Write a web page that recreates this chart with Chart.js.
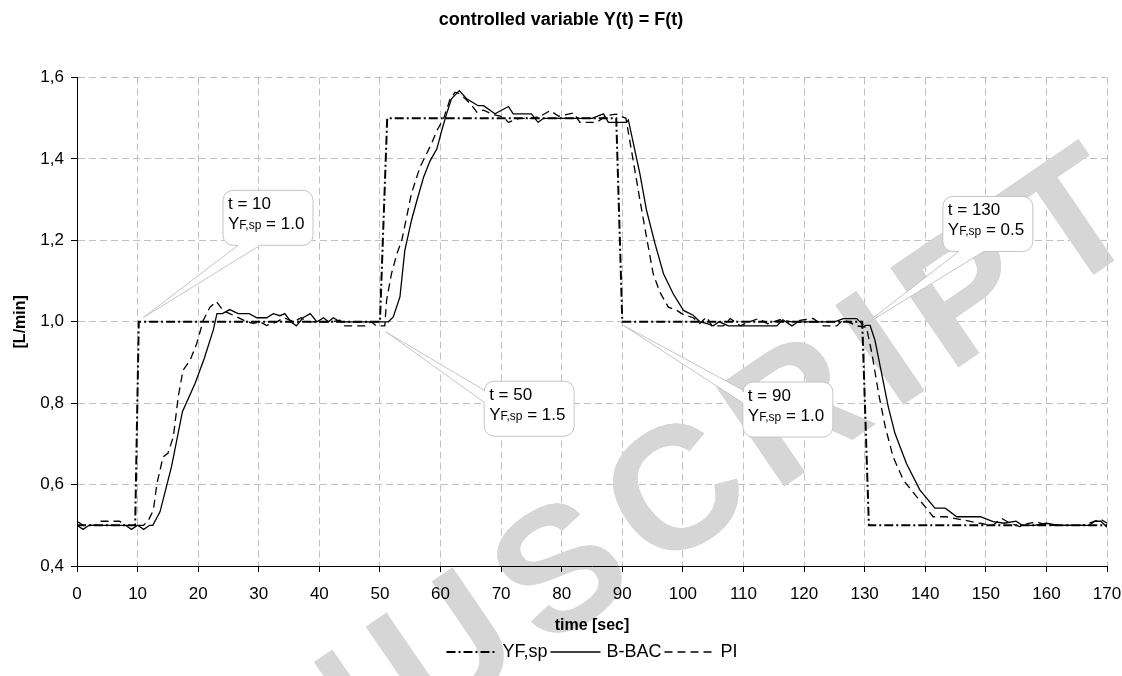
<!DOCTYPE html>
<html lang="en">
<head>
  <meta charset="UTF-8">
  <title>controlled variable Y(t) = F(t)</title>
  <script src="https://cdn.jsdelivr.net/npm/chart.js"></script>
  <style>
    html, body { margin: 0; padding: 0; background: #fff; }
    .chart-container { width: 1122px; height: 676px; }
  </style>
</head>
<body>
<div class="chart-container">
  <canvas id="flowChart"></canvas>
</div>

<script>
  // setpoint YF,sp
  var spTime = [0, 9.6, 10.2, 50, 51.2, 89, 90, 129.6, 130.7, 170];
  var spFlow = [0.5, 0.5, 1.0, 1.0, 1.5, 1.5, 1.0, 1.0, 0.5, 0.5];

  // B-BAC response
  var bbacTime = [0, 1, 2, 4, 6, 8, 9, 10, 11, 12, 12.5, 13.7, 15.6, 17.4, 19.5, 21, 22.5, 23.1, 24, 25.2,
    26.6, 28.4, 29.7, 31.3, 32.4, 33.5, 34.3, 35.3, 36.2, 37.3, 38.5, 39.6, 40.7, 41.5, 42.3, 43.4, 45, 47, 49, 51.4,
    52.2, 53.3, 54.1, 55.2, 56.1, 57.2, 58.3, 59.4, 60.2, 61.0, 61.8, 63.1, 64.3, 65.2, 66.2, 67.1, 69.0, 71.2, 72.0, 75.0,
    76.1, 77, 80, 83, 85, 86.9, 87.7, 90.7, 91.0, 91.8, 92.9, 94.0, 95.4, 96.8, 98.4, 100.1, 101.7, 102.8, 103.9, 105,
    106, 107.5, 110, 112, 114, 115.5, 116.5, 118, 119, 121, 123, 125, 126.5, 128.7, 129.8, 130.9, 131.7, 132.8, 133.9, 135,
    136.9, 139.1, 141.6, 143.3, 145.2, 149.1, 151.2, 153, 155, 156, 158, 160, 162, 165, 167, 168, 169, 170];
  var bbacFlow = [0.50, 0.49, 0.50, 0.50, 0.50, 0.50, 0.49, 0.50, 0.49, 0.50, 0.50, 0.533, 0.644, 0.779, 0.849, 0.91, 0.98, 1.02, 1.02, 1.03,
    1.02, 1.02, 1.01, 1.01, 1.02, 1.015, 1.02, 1.0, 0.99, 1.01, 1.02, 1.0, 1.01, 1.0, 1.01, 1.0, 1.0, 1.0, 1.0, 1.0,
    1.012, 1.061, 1.175, 1.249, 1.298, 1.355, 1.396, 1.425, 1.47, 1.511, 1.548, 1.568, 1.548, 1.54, 1.531, 1.531, 1.511, 1.529, 1.511, 1.511,
    1.49, 1.50, 1.50, 1.50, 1.50, 1.511, 1.49, 1.49, 1.496, 1.44, 1.364, 1.274, 1.192, 1.118, 1.069, 1.028, 1.016, 1.0, 0.996, 0.99,
    1.0, 0.99, 0.99, 0.99, 0.99, 0.99, 1.005, 0.99, 1.0, 1.0, 1.0, 1.0, 1.008, 1.008, 0.991, 0.991, 0.955, 0.873, 0.791, 0.726,
    0.652, 0.587, 0.542, 0.542, 0.521, 0.521, 0.509, 0.505, 0.51, 0.50, 0.50, 0.505, 0.50, 0.50, 0.50, 0.51, 0.51, 0.495];

  // PI response
  var piTime = [0, 1, 3, 4, 5, 7, 8, 9, 10, 11, 11.8, 12.6, 13.2, 14.2, 15.0, 15.9, 16.7, 17.5, 18.65, 19.75,
    20.85, 21.95, 23.0, 24.1, 25.2, 26.4, 28, 29.1, 30.2, 31.3, 33, 34.1, 35.8, 37, 38, 40, 42, 43.4, 44.2, 47.5,
    48.6, 49.4, 50.8, 51.1, 51.9, 52.8, 53.6, 54.4, 55.2, 56.6, 58.5, 59.4, 60.5, 61.6, 62.4, 63.2, 64.3, 65.4, 66, 67.1,
    68.5, 70.4, 71.2, 73, 75, 76.5, 78.1, 79.5, 82, 83.0, 85.8, 87.4, 89.0, 90.6, 91.8, 92.9, 94.0, 95.1, 96.2, 97.6,
    99.0, 99.8, 101.7, 102.8, 103.9, 104.8, 106.7, 107.8, 109.5, 111, 112.5, 114, 116, 118, 120, 121.5, 123.2, 125.4, 126.5, 128.7,
    130.3, 131.2, 132.3, 133.4, 134.7, 136.4, 138.6, 140.2, 141.3, 143.5, 146.3, 149, 151.2, 152.6, 154, 155.6, 157, 158.5, 160, 163,
    166, 168, 169, 170];
  var piFlow = [0.51, 0.50, 0.50, 0.51, 0.51, 0.51, 0.50, 0.50, 0.50, 0.50, 0.513, 0.537, 0.603, 0.668, 0.677, 0.717, 0.815, 0.881, 0.905, 0.946,
    1.004, 1.036, 1.05, 1.028, 1.02, 1.012, 1.0, 0.996, 1.0, 0.991, 1.0, 1.01, 1.0, 1.01, 1.0, 1.0, 1.0, 1.004, 0.99, 0.99,
    1.0, 0.99, 0.99, 1.053, 1.118, 1.167, 1.2, 1.257, 1.315, 1.38, 1.437, 1.47, 1.499, 1.548, 1.564, 1.56, 1.545, 1.527, 1.515, 1.52,
    1.51, 1.503, 1.49, 1.50, 1.50, 1.505, 1.519, 1.505, 1.513, 1.49, 1.49, 1.507, 1.51, 1.50, 1.396, 1.30, 1.208, 1.118, 1.073, 1.036,
    1.028, 1.02, 1.01, 0.996, 1.012, 0.99, 0.99, 1.008, 0.99, 1.0, 1.008, 0.995, 1.005, 1.0, 1.005, 1.008, 0.99, 0.99, 1.005, 0.99,
    0.987, 0.922, 0.824, 0.742, 0.668, 0.611, 0.57, 0.542, 0.521, 0.521, 0.513, 0.505, 0.50, 0.517, 0.505, 0.497, 0.505, 0.508, 0.50, 0.50,
    0.50, 0.51, 0.515, 0.505];

  var timeTicks = [0, 170, 10];
  var flowTicks = [0.4, 1.6, 0.2];

  // callout bubbles: label values, tip (data), box top-left (data), side the pointer leaves from
  var calloutT = [10, 50, 90, 130];
  var calloutSp = ['1.0', '1.5', '1.0', '0.5'];
  var calloutTip = [[10.9, 1.01], [51.0, 0.975], [90.2, 0.991], [129.8, 0.991]];
  var calloutBox = [[24.1, 1.323], [67.2, 0.854], [109.9, 0.852], [142.9, 1.308]];
  var calloutSide = ['bottom', 'left', 'left', 'bottom'];
  var calloutBase = [[15, 37], [9, 21], [8, 21], [16, 41]];

  function toPoints(xs, ys) {
    return xs.map(function(x, i) { return {x: x, y: ys[i]}; });
  }

  function bubble(ctx, x, y, w, h, r, side, a, b, tx, ty) {
    ctx.beginPath();
    ctx.moveTo(x + r, y);
    ctx.lineTo(x + w - r, y);
    ctx.arcTo(x + w, y, x + w, y + r, r);
    ctx.lineTo(x + w, y + h - r);
    ctx.arcTo(x + w, y + h, x + w - r, y + h, r);
    if (side === 'bottom') {
      ctx.lineTo(x + b, y + h);
      ctx.lineTo(tx, ty);
      ctx.lineTo(x + a, y + h);
    }
    ctx.lineTo(x + r, y + h);
    ctx.arcTo(x, y + h, x, y + h - r, r);
    if (side === 'left') {
      ctx.lineTo(x, y + b);
      ctx.lineTo(tx, ty);
      ctx.lineTo(x, y + a);
    }
    ctx.lineTo(x, y + r);
    ctx.arcTo(x, y, x + r, y, r);
    ctx.closePath();
    ctx.fill();
    ctx.stroke();
  }

  function drawWatermark(ctx) {
    ctx.save();
    ctx.translate(425, 732);
    ctx.rotate(-0.6);
    ctx.font = 'bold 175px Arial';
    ctx.letterSpacing = '18px';
    ctx.fillStyle = '#d6d6d6';
    ctx.textAlign = 'right';
    ctx.fillText('ACCEPTED MAN', 0, 0);
    ctx.textAlign = 'left';
    ctx.fillText('USCRIPT', 0, 0);
    ctx.restore();
  }

  // watermark: once under everything, once over the grid inside the plot area
  var watermark = {
    id: 'watermark',
    beforeDraw: function(chart) {
      drawWatermark(chart.ctx);
    },
    beforeDatasetsDraw: function(chart) {
      var a = chart.chartArea, ctx = chart.ctx;
      ctx.save();
      ctx.beginPath();
      ctx.rect(a.left + 1, a.top, a.right - a.left - 1, a.bottom - a.top - 1);
      ctx.clip();
      drawWatermark(ctx);
      ctx.restore();
    }
  };

  var callouts = {
    id: 'callouts',
    afterDatasetsDraw: function(chart) {
      var ctx = chart.ctx;
      var xs = chart.scales.x, ys = chart.scales.y;
      ctx.save();
      for (var i = 0; i < calloutT.length; i++) {
        var bx = xs.getPixelForValue(calloutBox[i][0]);
        var by = ys.getPixelForValue(calloutBox[i][1]);
        var tx = xs.getPixelForValue(calloutTip[i][0]);
        var ty = ys.getPixelForValue(calloutTip[i][1]);
        ctx.fillStyle = '#fff';
        ctx.strokeStyle = '#c4c4c4';
        ctx.lineWidth = 1;
        ctx.setLineDash([]);
        bubble(ctx, bx, by, 90, 55, 10, calloutSide[i], calloutBase[i][0], calloutBase[i][1], tx, ty);

        ctx.fillStyle = '#000';
        ctx.textBaseline = 'alphabetic';
        ctx.textAlign = 'left';
        var lx = bx + 5;
        ctx.font = '17px Arial';
        ctx.fillText('t = ' + calloutT[i], lx, by + 19);
        ctx.fillText('Y', lx, by + 39);
        var w = ctx.measureText('Y').width;
        ctx.font = '12px Arial';
        ctx.fillText('F,sp', lx + w, by + 39);
        w += ctx.measureText('F,sp').width;
        ctx.font = '17px Arial';
        ctx.fillText(' = ' + calloutSp[i], lx + w, by + 39);
      }
      ctx.restore();
    }
  };

  // legend row under the axis title, centred on the plot area
  var lineLegend = {
    id: 'lineLegend',
    afterDraw: function(chart) {
      var ctx = chart.ctx, a = chart.chartArea;
      var sets = chart.data.datasets;
      var sample = 50, gapIn = 6, gapOut = 3;
      ctx.save();
      ctx.font = '18px Arial';
      var total = 0;
      sets.forEach(function(ds, i) {
        total += sample + gapIn + ctx.measureText(ds.label).width + (i < sets.length - 1 ? gapOut : 0);
      });
      var x = (a.left + a.right) / 2 - total / 2;
      var y = 652;
      sets.forEach(function(ds) {
        ctx.strokeStyle = ds.borderColor;
        ctx.lineWidth = ds.borderWidth;
        ctx.setLineDash(ds.borderDash || []);
        ctx.beginPath();
        ctx.moveTo(x, y);
        ctx.lineTo(x + sample, y);
        ctx.stroke();
        x += sample + gapIn;
        ctx.fillStyle = '#000';
        ctx.textBaseline = 'middle';
        ctx.textAlign = 'left';
        ctx.fillText(ds.label, x, y);
        x += ctx.measureText(ds.label).width + gapOut;
      });
      ctx.restore();
    }
  };

  var ctx = document.getElementById('flowChart').getContext('2d');
  window.flowChart = new Chart(ctx, {
    type: 'line',
    data: {
      datasets: [{
        label: 'YF,sp',
        data: toPoints(spTime, spFlow),
        borderColor: '#000',
        backgroundColor: '#000',
        borderWidth: 2,
        borderDash: [9, 3, 2, 3],
        pointRadius: 0,
        tension: 0
      }, {
        label: 'B-BAC',
        data: toPoints(bbacTime, bbacFlow),
        borderColor: '#000',
        backgroundColor: '#000',
        borderWidth: 1.3,
        pointRadius: 0,
        tension: 0
      }, {
        label: 'PI',
        data: toPoints(piTime, piFlow),
        borderColor: '#000',
        backgroundColor: '#000',
        borderWidth: 1.3,
        borderDash: [8, 5],
        pointRadius: 0,
        tension: 0
      }]
    },
    options: {
      responsive: true,
      maintainAspectRatio: false,
      animation: false,
      layout: { padding: { left: 0, right: 0, top: 0, bottom: 37 } },
      scales: {
        x: {
          type: 'linear',
          min: timeTicks[0],
          max: timeTicks[1],
          afterFit: function(scale) {
            scale.height = 73;
            scale.paddingRight = 15;
          },
          ticks: {
            stepSize: timeTicks[2],
            color: '#000',
            font: { family: 'Arial', size: 17 },
            padding: 12,
            maxRotation: 0
          },
          grid: { color: '#c0c0c0', tickColor: '#000', tickLength: 6 },
          border: { color: '#000', width: 1, dash: [7, 4] },
          title: {
            display: true,
            text: 'time [sec]',
            color: '#000',
            font: { family: 'Arial', size: 16, weight: 'bold' },
            padding: { top: 0, bottom: 4 }
          }
        },
        y: {
          min: flowTicks[0],
          max: flowTicks[1],
          afterFit: function(scale) { scale.width = 77; },
          ticks: {
            stepSize: flowTicks[2],
            color: '#000',
            font: { family: 'Arial', size: 17 },
            padding: 7,
            callback: function(v) { return v.toFixed(1).replace('.', ','); }
          },
          grid: { color: '#c0c0c0', tickColor: '#000', tickLength: 6 },
          border: { color: '#000', width: 1, dash: [7, 4] },
          title: {
            display: true,
            text: '[L/min]',
            color: '#000',
            font: { family: 'Arial', size: 16, weight: 'bold' },
            padding: { top: 11, bottom: 0 }
          }
        }
      },
      plugins: {
        title: {
          display: true,
          text: 'controlled variable Y(t) = F(t)',
          color: '#000',
          font: { family: 'Arial', size: 18, weight: 'bold' },
          padding: { top: 9, bottom: 47 }
        },
        legend: { display: false },
        tooltip: { enabled: false }
      }
    },
    plugins: [watermark, callouts, lineLegend]
  });
</script>
</body>
</html>
